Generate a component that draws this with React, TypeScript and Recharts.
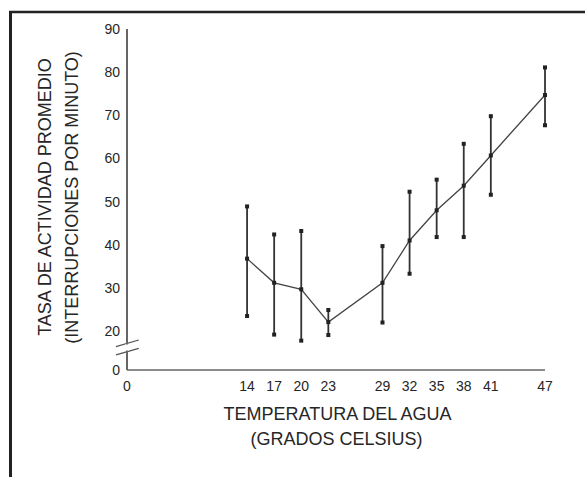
import { ComposedChart, ErrorBar, Line, ReferenceLine, Scatter, XAxis, YAxis } from "recharts";

// water temperature (°C)
const temperatures = [14, 17, 20, 23, 29, 32, 35, 38, 41, 47];
// mean activity rate (interruptions per minute)
const means = [36.8, 31.2, 29.7, 22.1, 31.2, 41.0, 48.0, 53.7, 60.7, 74.7];
const highs = [48.9, 42.4, 43.2, 24.9, 39.7, 52.3, 55.1, 63.4, 69.8, 81.1];
const lows = [23.5, 19.2, 17.8, 19.1, 22.0, 33.3, 41.8, 41.8, 51.6, 67.7];

// axes start at a drawn "0" (the original figure has a broken scale)
const X_ORIGIN = 0.7;
const Y_ORIGIN = 11;
const xTicks = [X_ORIGIN, 14, 17, 20, 23, 29, 32, 35, 38, 41, 47];
const yTicks = [Y_ORIGIN, 20, 30, 40, 50, 60, 70, 80, 90];

const FONT = '"Liberation Sans", Arial, sans-serif';
const INK = "#262626";
const AXIS = "#666";

const rows = temperatures.map((t, i) => ({
  temp: t,
  mean: means[i],
  low: lows[i],
  high: highs[i],
  err: [means[i] - lows[i], highs[i] - means[i]],
}));

function Square(props: any) {
  const { cx, cy } = props;
  if (cx == null || cy == null) return null;
  return <rect x={cx - 2} y={cy - 2} width={4} height={4} fill="#222" />;
}

export default function App() {
  return (
    <div
      style={{
        position: "absolute",
        left: 0,
        top: 0,
        width: 585,
        height: 477,
        background: "#fff",
        fontFamily: FONT,
      }}
    >
      <ComposedChart
        width={585}
        height={477}
        data={rows}
        margin={{ top: 29, right: 40, left: 0, bottom: 0 }}
      >
        <XAxis
          dataKey="temp"
          type="number"
          domain={[X_ORIGIN, 47]}
          ticks={xTicks}
          interval={0}
          tickFormatter={(v) => (v === X_ORIGIN ? "0" : String(v))}
          height={107}
          tickLine={false}
          tickSize={8}
          tickMargin={3}
          axisLine={{ stroke: AXIS, strokeWidth: 1.5 }}
          tick={{ fill: INK, fontSize: 14, fontFamily: FONT }}
        />
        <YAxis
          type="number"
          domain={[Y_ORIGIN, 90]}
          ticks={yTicks}
          interval={0}
          tickFormatter={(v) => (v === Y_ORIGIN ? "0" : String(v))}
          width={127}
          axisLine={{ stroke: AXIS, strokeWidth: 2 }}
          tickLine={false}
          tickSize={5}
          tickMargin={2}
          tick={{ fill: INK, fontSize: 14, fontFamily: FONT }}
        />
        {/* the two strokes of the axis break */}
        <ReferenceLine
          segment={[{ x: -0.52, y: 16.4 }, { x: 2.0, y: 17.95 }]}
          stroke="#555"
          strokeWidth={1.3}
          ifOverflow="visible"
        />
        <ReferenceLine
          segment={[{ x: -0.52, y: 14.48 }, { x: 2.0, y: 16.03 }]}
          stroke="#555"
          strokeWidth={1.3}
          ifOverflow="visible"
        />
        <Line
          dataKey="mean"
          stroke="#444"
          strokeWidth={1.3}
          dot={(p: any) => <Square key={`m${p.index}`} {...p} />}
          activeDot={false}
          isAnimationActive={false}
        >
          <ErrorBar
            dataKey="err"
            direction="y"
            width={0}
            stroke="#333"
            strokeWidth={1.8}
            isAnimationActive={false}
          />
        </Line>
        <Scatter dataKey="high" shape={<Square />} isAnimationActive={false} />
        <Scatter dataKey="low" shape={<Square />} isAnimationActive={false} />
      </ComposedChart>
      <svg
        width={585}
        height={477}
        style={{ position: "absolute", left: 0, top: 0, pointerEvents: "none" }}
      >
        {/* frame */}
        <line x1={9} y1={12} x2={585} y2={12} stroke="#222" strokeWidth={2.5} />
        <line x1={10.5} y1={11} x2={10.5} y2={477} stroke="#222" strokeWidth={3} />
        {/* gap in the y axis between the break strokes */}
        <line x1={127} y1={344.5} x2={127} y2={350.5} stroke="#fff" strokeWidth={4} />
        <g fill={INK} fontFamily={FONT} fontSize={18} textAnchor="middle">
          <text x={44.5} y={197} transform="rotate(-90 44.5 197)" dominantBaseline="central">
            TASA DE ACTIVIDAD PROMEDIO
          </text>
          <text x={71.5} y={197.5} transform="rotate(-90 71.5 197.5)" dominantBaseline="central">
            (INTERRUPCIONES POR MINUTO)
          </text>
          <text x={337.5} y={414} dominantBaseline="central">
            TEMPERATURA DEL AGUA
          </text>
          <text x={336.5} y={439} dominantBaseline="central">
            (GRADOS CELSIUS)
          </text>
        </g>
      </svg>
    </div>
  );
}
